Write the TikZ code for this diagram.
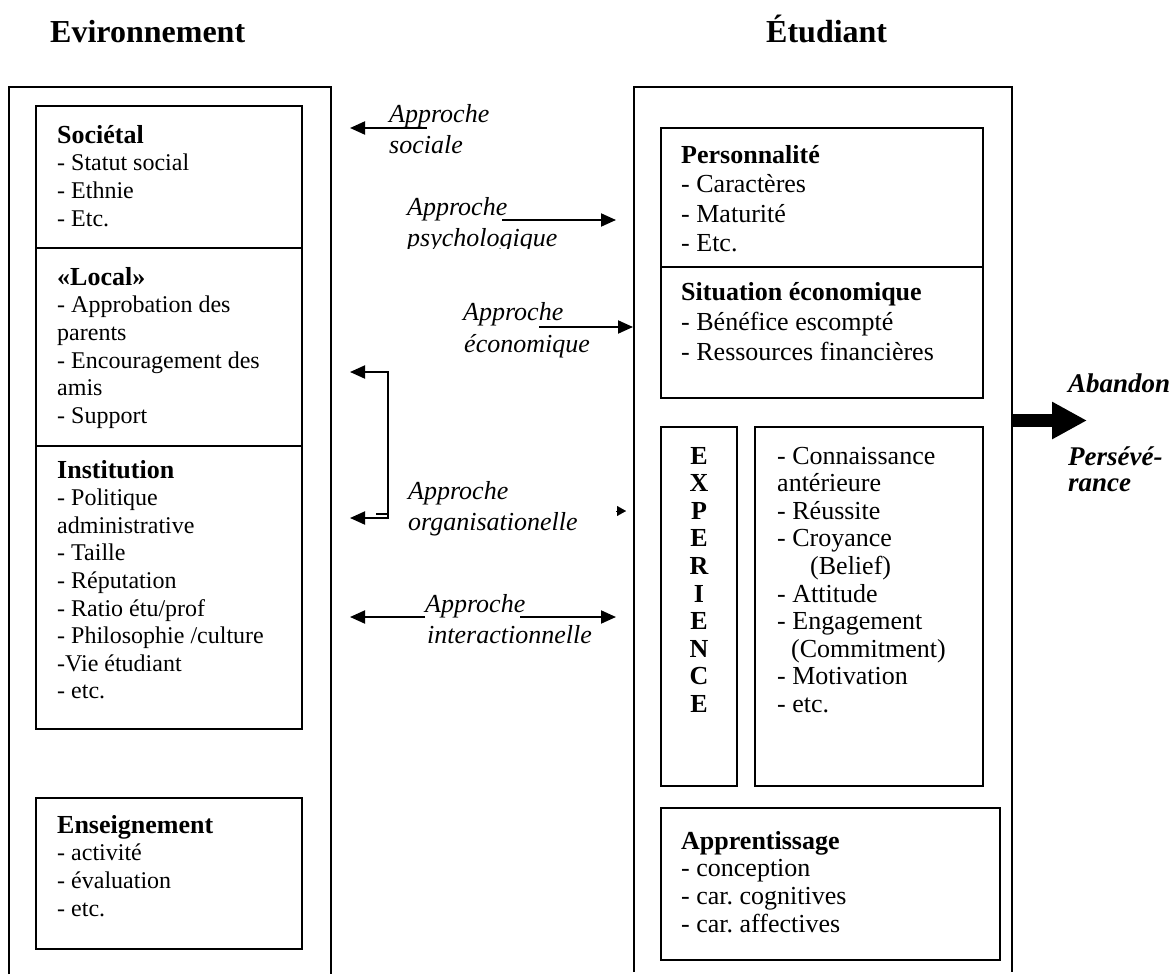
\documentclass[tikz,border=0pt]{standalone}
\usepackage{fontspec}
\setmainfont{Liberation Serif}
\usetikzlibrary{arrows.meta}
\frenchspacing
\newcommand\txtlines[6]{% name, x, y0, skip, style, list
  \foreach \mytext [count=\i from 0] in {#6}{%
    \node[#5, anchor=base west] (#1\i) at (#2,{#3+\i*#4}) {\mytext};}}
\tikzset{
  bodyl/.style={inner sep=0pt, font=\fontsize{24}{28}\selectfont},
  bodyr/.style={inner sep=0pt, font=\fontsize{26}{30}\selectfont},
  ital/.style={inner sep=0pt, font=\fontsize{26}{30}\selectfont\itshape},
  hdr/.style={inner sep=0pt, font=\fontsize{32}{36}\selectfont\bfseries},
  outc/.style={inner sep=0pt, font=\fontsize{27}{31}\selectfont\bfseries\itshape},
  frame/.style={draw, line width=2pt},
  arr/.style={line width=2pt, -{Triangle[length=15pt,width=13pt]}},
  barr/.style={line width=2pt, {Triangle[length=15pt,width=13pt]}-{Triangle[length=15pt,width=13pt]}},
}
\newcommand\hd[1]{{\fontsize{26}{30}\selectfont\bfseries #1}}
\begin{document}
\begin{tikzpicture}[x=1pt,y=-1pt]
\useasboundingbox (0,0) rectangle (1174,974);
% headers
\node[hdr, anchor=base west] (henv) at (50,42) {Evironnement};
\node[hdr, anchor=base west] (hetu) at (766,42) {Étudiant};
% outer frames
\draw[frame] (9,974) -- (9,87) -- (331,87) -- (331,974);
\draw[frame] (634,972) -- (634,87) -- (1012,87) -- (1012,972);
% left inner boxes
\draw[frame] (36,106) rectangle (302,248);
\draw[frame] (36,248) rectangle (302,446);
\draw[frame] (36,446) rectangle (302,729);
\draw[frame] (36,798) rectangle (302,949);
% right inner boxes
\draw[frame] (661,128) rectangle (983,267);
\draw[frame] (661,267) rectangle (983,398);
\draw[frame] (661,427) rectangle (737,786);
\draw[frame] (755,427) rectangle (983,786);
\draw[frame] (661,808) rectangle (1000,960);
% left texts
\txtlines{soc}{57}{143}{27.7}{bodyl}{{\hd{Sociétal}},- Statut social,- Ethnie,- Etc.}
\txtlines{loc}{57}{285}{27.7}{bodyl}{{\hd{«Local»}},- Approbation des,parents,- Encouragement des,amis,- Support}
\txtlines{ins}{57}{478}{27.6}{bodyl}{{\hd{Institution}},- Politique,administrative,- Taille,- Réputation,- Ratio étu/prof,- Philosophie /culture,-Vie étudiant,- etc.}
\txtlines{ens}{57}{833}{27.8}{bodyl}{{\hd{Enseignement}},- activité,- évaluation,- etc.}
% right texts
\txtlines{per}{681}{163}{29.5}{bodyr}{{\textbf{Personnalité}},- Caractères,- Maturité,- Etc.}
\txtlines{sit}{681}{300}{30}{bodyr}{{\textbf{Situation économique}},- Bénéfice escompté,- Ressources financières}
\txtlines{exl}{777}{464}{27.6}{bodyr}{- Connaissance,antérieure,- Réussite,- Croyance,\hspace*{33pt}(Belief),- Attitude,- Engagement,\hspace*{14pt}(Commitment),- Motivation,- etc.}
\foreach \L [count=\i from 0] in {E,X,P,E,R,I,E,N,C,E}{%
  \node[bodyr, font=\fontsize{26}{30}\selectfont\bfseries, anchor=base] (exp\i) at (699,{464+\i*27.6}) {\L};}
\txtlines{app}{681}{849}{27.7}{bodyr}{{\textbf{Apprentissage}},- conception,- car. cognitives,- car. affectives}
% approach labels
\node[ital, anchor=base west] (as1) at (389,122) {Approche};
\node[ital, anchor=base west] (as2) at (389,153) {sociale};
\node[ital, anchor=base west] (ap1) at (407,215) {Approche};
\begin{scope}
  \clip (380,225) rectangle (640,248);
  \node[ital, anchor=base west] (ap2) at (407,246) {psychologique};
\end{scope}
\node[ital, anchor=base west] (ae1) at (463,320) {Approche};
\node[ital, anchor=base west] (ae2) at (464,352) {économique};
\node[ital, anchor=base west] (ao1) at (408,499) {Approche};
\node[ital, anchor=base west] (ao2) at (408,530) {organisationelle};
\node[ital, anchor=base west] (ai1) at (425,612) {Approche};
\node[ital, anchor=base west] (ai2) at (427,643) {interactionnelle};
% arrow coordinates
\coordinate (sS) at (427,128); \coordinate (sE) at (350,128);
\coordinate (pS) at (502,220); \coordinate (pE) at (616,220);
\coordinate (eS) at (539,327); \coordinate (eE) at (633,327);
\coordinate (bA) at (350,372); \coordinate (bB) at (350,518);
\coordinate (bC) at (388,372); \coordinate (bD) at (388,518);
\coordinate (oS) at (616,511); \coordinate (oE) at (626,511);
\coordinate (iS) at (425,617); \coordinate (iE) at (350,617);
\coordinate (jS) at (520,617); \coordinate (jE) at (616,617);
\coordinate (gS) at (1012,420.5); \coordinate (gE) at (1087,420.5);
% arrows
\draw[arr] (sS) -- (sE);
\draw[arr] (pS) -- (pE);
\draw[arr] (eS) -- (eE);
\draw[barr] (bA) -- (bC) -- (bD) -- (bB);
\draw[line width=1.2pt] (376,514) -- (bD |- 0,514);
\draw[line width=0.1pt, -{Triangle[length=9pt,width=10pt]}] (oS) -- (oE);
\draw[arr] (iS) -- (iE);
\draw[arr] (jS) -- (jE);
\draw[line width=13pt, -{Triangle[length=35pt,width=35pt]}] (gS) -- (gE);
% outcome labels
\node[outc, anchor=base west] (ab) at (1068,392) {Abandon};
\node[outc, anchor=base west] (pe1) at (1068,465) {Persévé-};
\node[outc, anchor=base west] (pe2) at (1068,491) {rance};
\end{tikzpicture}
\end{document}
